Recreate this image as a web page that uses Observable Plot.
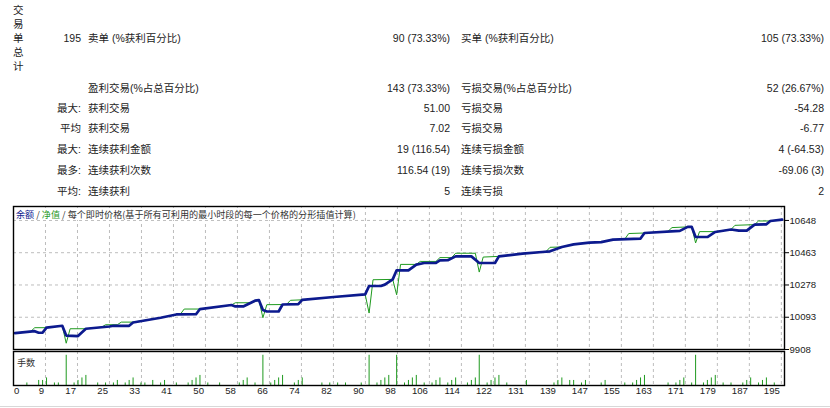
<!DOCTYPE html>
<html><head><meta charset="utf-8">
<script src="https://cdn.jsdelivr.net/npm/d3@7"></script>
<script src="https://cdn.jsdelivr.net/npm/@observablehq/plot@0.6"></script>
<style>
html,body{margin:0;padding:0;background:#fff;}
#root{position:relative;width:830px;height:408px;overflow:hidden;font-family:"Liberation Sans","Noto Sans CJK SC",sans-serif;color:#222;}
.t{position:absolute;font-size:10.5px;line-height:12px;white-space:nowrap;}
.plot{position:absolute;left:0;}
#title{position:absolute;left:15px;top:208px;font-family:"Noto Sans CJK SC",sans-serif;font-size:9.1px;line-height:12px;background:#fff;padding:0 1px;color:#333;white-space:nowrap;}
#lotlabel{position:absolute;left:17px;top:356px;font-family:"Noto Sans CJK SC",sans-serif;font-size:9.1px;line-height:12px;color:#333;}
#bottomline{position:absolute;left:0;top:406px;width:830px;height:1px;background:#d8d8d8;}
</style></head><body><div id="root"></div>
<script>
// ---------- summary table ----------
const sideTitle = ["交","易","单","总","计"];
const rowPrefix = ["195", "", "最大:", "平均", "最大:", "最多:", "平均:"];
const leftLabels = ["卖单 (%获利百分比)", "盈利交易(%占总百分比)", "获利交易", "获利交易", "连续获利金额", "连续获利次数", "连续获利"];
const leftValues = ["90 (73.33%)", "143 (73.33%)", "51.00", "7.02", "19 (116.54)", "116.54 (19)", "5"];
const rightLabels = ["买单 (%获利百分比)", "亏损交易(%占总百分比)", "亏损交易", "亏损交易", "连续亏损金额", "连续亏损次数", "连续亏损"];
const rightValues = ["105 (73.33%)", "52 (26.67%)", "-54.28", "-6.77", "4 (-64.53)", "-69.06 (3)", "2"];

// ---------- chart data ----------
const titleParts = ["余额", " / ", "净值", " / 每个即时价格(基于所有可利用的最小时段的每一个价格的分形插值计算)"];
const lotsLabel = "手数";
const balanceTrade = [0,5,6,7,8,12,13,16,18,24,25,29,30,37,41,46,47,55,56,58,61,62,63,64,67,68,72,73,81,89,90,93,94,96,97,100,102,104,107,108,110,112,116,118,122,123,129,134,136,139,142,146,149,152,159,160,169,171,172,173,176,178,182,184,186,188,191,192,195];
const balanceValue = [10002,10013,10004,10005,10033,10044,9988,9985,10027,10040,10044,10044,10063,10090,10109,10110,10140,10163,10155,10155,10188,10191,10135,10126,10126,10166,10168,10193,10209,10224,10272,10272,10280,10310,10362,10362,10395,10404,10405,10419,10420,10442,10442,10404,10404,10442,10458,10467,10471,10496,10511,10521,10524,10538,10544,10576,10588,10611,10612,10553,10553,10582,10596,10590,10590,10624,10626,10645,10653];
const equityTrade = [0,4,5,8,12,13,14,18,22,23,26,27,30,37,41,42,43,47,55,56,60,62,63,64,69,70,73,81,89,90,91,96,97,98,102,103,107,108,111,112,117,118,119,123,129,134,135,136,139,142,146,149,152,155,156,160,166,167,172,173,174,178,182,183,188,189,192,195];
const equityValue = [10002,10012,10033,10033,10044,9944,10027,10027,10036,10050,10050,10065,10065,10090,10109,10110,10140,10140,10163,10176,10176,10191,10090,10165,10166,10190,10193,10209,10224,10117,10308,10310,10222,10396,10396,10413,10413,10435,10435,10460,10460,10352,10438,10442,10458,10467,10470,10494,10496,10511,10521,10524,10538,10541,10573,10576,10586,10607,10612,10519,10584,10584,10596,10620,10624,10645,10645,10653];
const lotTrade = [3,6,7,8,10,11,13,15,16,17,18,21,23,25,26,28,29,30,32,33,35,37,38,41,44,45,46,47,49,52,57,58,59,61,63,65,66,67,68,71,72,73,78,80,82,84,88,90,92,93,94,95,97,99,100,101,102,104,106,107,108,110,111,112,115,116,117,118,120,121,122,123,125,130,137,138,139,141,142,144,145,149,150,155,157,158,159,160,166,168,169,170,172,173,175,176,177,178,180,182,185,186,187,189,190,191,193];
const lotSize = [0.01,0.02,0.02,0.03,0.01,0.01,0.12,0.01,0.02,0.03,0.04,0.01,0.01,0.01,0.02,0.01,0.02,0.03,0.01,0.01,0.02,0.01,0.02,0.01,0.01,0.02,0.03,0.04,0.01,0.01,0.01,0.02,0.03,0.01,0.12,0.01,0.02,0.03,0.04,0.01,0.02,0.03,0.01,0.01,0.01,0.01,0.01,0.12,0.01,0.02,0.03,0.04,0.12,0.01,0.02,0.03,0.04,0.01,0.01,0.02,0.03,0.01,0.02,0.03,0.01,0.02,0.03,0.12,0.01,0.02,0.03,0.04,0.01,0.02,0.01,0.02,0.03,0.02,0.02,0.01,0.02,0.01,0.02,0.01,0.01,0.02,0.03,0.04,0.01,0.01,0.02,0.03,0.01,0.12,0.01,0.02,0.03,0.04,0.01,0.01,0.01,0.02,0.03,0.01,0.02,0.03,0.01];
const yTickLabels = [9908, 10093, 10278, 10463, 10648];
const xTickLabels = ["0","9","17","25","33","41","50","58","66","74","82","90","98","106","114","122","131","139","147","155","163","171","179","187","195"];

const NAVY = "#0c1a8e", GREEN = "#1f9a1f", GRID = "#bdbdbd";
const root = document.getElementById("root");

function addText(txt, cls, style) {
  const d = document.createElement("div");
  d.className = cls; d.textContent = txt;
  Object.assign(d.style, style);
  root.appendChild(d);
}
sideTitle.forEach((c, i) => addText(c, "t", {left: "13px", top: (3.5 + i * 14) + "px", fontFamily: "'Noto Sans CJK SC'"}));
const rowY = [38, 87.5, 107.5, 128, 149, 170, 191];
rowY.forEach((cy, i) => {
  const top = (cy - 6) + "px";
  if (rowPrefix[i]) addText(rowPrefix[i], "t", {right: (830 - 81) + "px", top});
  addText(leftLabels[i], "t", {left: "88px", top});
  addText(leftValues[i], "t", {right: (830 - 450) + "px", top});
  addText(rightLabels[i], "t", {left: "461px", top});
  addText(rightValues[i], "t", {right: (830 - 824) + "px", top});
});

// ---------- chart ----------
const balance = balanceTrade.map((t, i) => ({t, v: balanceValue[i]}));
const equity = equityTrade.map((t, i) => ({t, v: equityValue[i]}));
const lots = lotTrade.map((t, i) => ({t, lot: lotSize[i]}));
const xDomain = [-0.4, 195.6];
const gridStep = 195.2 / (xTickLabels.length - 1);
const xTicks = xTickLabels.map((label, i) => ({t: xDomain[0] + i * gridStep, label}));
const gridT = xTicks.slice(1).map(d => d.t);
const common = {width: 830, marginLeft: 13, marginRight: 46, style: {overflow: "visible", background: "transparent"}};

const main = Plot.plot({
  ...common, height: 152, marginTop: 6, marginBottom: 3,
  x: {domain: xDomain, axis: null},
  y: {domain: [9908, 10728], axis: null},
  marks: [
    Plot.gridX(gridT, {stroke: GRID, strokeOpacity: 1, strokeDasharray: "3,3"}),
    Plot.gridY(yTickLabels.slice(1), {stroke: GRID, strokeOpacity: 1, strokeDasharray: "3,3"}),
    Plot.line(equity, {x: "t", y: "v", stroke: GREEN, strokeWidth: 1}),
    Plot.line(balance, {x: "t", y: "v", stroke: NAVY, strokeWidth: 2.7, strokeLinejoin: "round"}),
    Plot.frame({stroke: "#000", strokeWidth: 1.4}),
    Plot.axisY(yTickLabels, {anchor: "right", tickSize: 4, tickPadding: 1, tickFormat: d => String(d), fontSize: 9.6, fill: "#222", stroke: "#000", label: null, fontFamily: "Liberation Sans"})
  ]
});
main.classList.add("plot");
main.style.top = "200px";
root.appendChild(main);

const vol = Plot.plot({
  ...common, height: 58, marginTop: 1, marginBottom: 23,
  x: {domain: xDomain, axis: null},
  y: {domain: [0, 0.135], axis: null},
  marks: [
    Plot.gridX(gridT, {stroke: GRID, strokeOpacity: 1, strokeDasharray: "3,3"}),
    Plot.ruleX(lots, {x: "t", y1: 0, y2: "lot", stroke: GREEN, strokeWidth: 1}),
    Plot.frame({stroke: "#000", strokeWidth: 1.4}),
    Plot.text(xTicks.slice(0, 1), {x: "t", text: "label", frameAnchor: "bottom", dy: 8.5, dx: 0.5, textAnchor: "start", fontSize: 9.6, fill: "#222", fontFamily: "Liberation Sans"}),
    Plot.text(xTicks.slice(1), {x: "t", text: "label", frameAnchor: "bottom", dy: 8.5, dx: -1.5, textAnchor: "end", fontSize: 9.6, fill: "#222", fontFamily: "Liberation Sans"})
  ]
});
vol.classList.add("plot");
vol.style.top = "350px";
root.appendChild(vol);

const title = document.createElement("div");
title.id = "title";
const titleColors = [NAVY, "#333", GREEN, "#333"];
titleParts.forEach((p, i) => {
  const s = document.createElement("span");
  s.textContent = p; s.style.color = titleColors[i];
  title.appendChild(s);
});
root.appendChild(title);
const ll = document.createElement("div");
ll.id = "lotlabel"; ll.textContent = lotsLabel;
root.appendChild(ll);
const bl = document.createElement("div");
bl.id = "bottomline";
root.appendChild(bl);
</script></body></html>
